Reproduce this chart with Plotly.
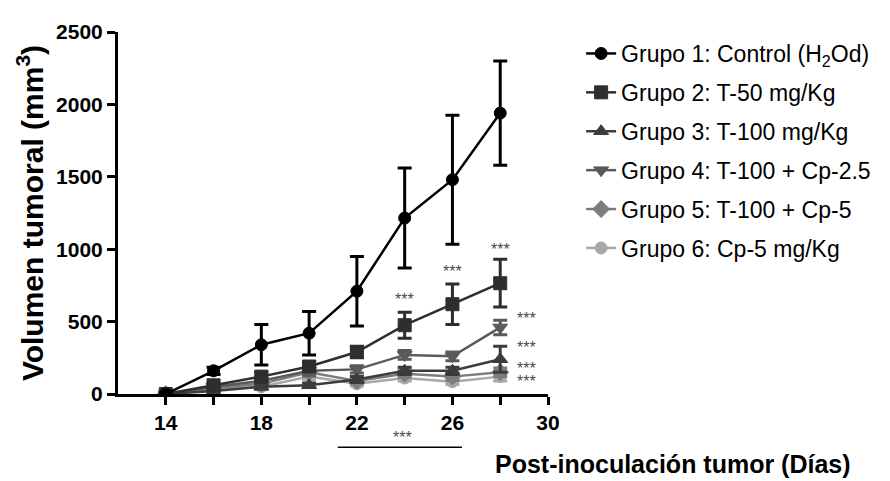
import plotly.graph_objects as go

days = [14, 16, 18, 20, 22, 24, 26, 28]
names = ["Grupo 1: Control (H<sub>2</sub>Od)", "Grupo 2: T-50 mg/Kg", "Grupo 3: T-100 mg/Kg",
         "Grupo 4: T-100 + Cp-2.5", "Grupo 5: T-100 + Cp-5", "Grupo 6: Cp-5 mg/Kg"]
g1 = [0, 160, 340, 420, 710, 1215, 1480, 1940]
g1_err = [0, 25, 140, 150, 240, 345, 445, 360]
g2 = [0, 60, 120, 190, 290, 475, 620, 765]
g2_err = [0, 15, 30, 35, 40, 90, 140, 165]
g3 = [0, 20, 50, 60, 100, 160, 160, 240]
g3_err = [0, 8, 15, 15, 20, 25, 25, 90]
g4 = [0, 50, 90, 160, 170, 270, 260, 460]
g4_err = [0, 10, 20, 30, 25, 30, 30, 50]
g5 = [0, 40, 70, 150, 90, 140, 120, 150]
g5_err = [0, 10, 15, 30, 20, 25, 25, 30]
g6 = [0, 30, 50, 120, 70, 110, 85, 120]
g6_err = [0, 10, 15, 25, 15, 20, 20, 30]

x_ticks = [14, 18, 22, 26, 30]
y_ticks = [0, 500, 1000, 1500, 2000, 2500]

series = [g1, g2, g3, g4, g5, g6]
errors = [g1_err, g2_err, g3_err, g4_err, g5_err, g6_err]
colors = ["#000000", "#2e2e2e", "#3c3c3c", "#5a5a5a", "#7c7c7c", "#a8a8a8"]
symbols = ["circle", "square", "triangle-up", "triangle-down", "diamond", "circle"]
sizes = [12, 13, 13, 13, 13, 12]

# significance marks: (x, y) in data units
star_x = [24, 26, 28, 29.1, 29.1, 29.1, 29.1]
star_y = [654, 845, 995, 518, 320, 177, 89]

FONT = "Liberation Sans, Arial, sans-serif"

fig = go.Figure()
for i in reversed(range(6)):
    fig.add_trace(go.Scatter(
        x=days, y=series[i], name=names[i], mode="lines+markers",
        line=dict(color=colors[i], width=2.5),
        marker=dict(symbol=symbols[i], size=sizes[i], color=colors[i],
                    line=dict(color=colors[i], width=1)),
        error_y=dict(type="data", array=errors[i], color=colors[i], thickness=3, width=7),
        legendrank=i + 1, legendgroup=str(i),
    ))

for sx, sy in zip(star_x, star_y):
    fig.add_annotation(x=sx, y=sy, text="***", showarrow=False, xref="x", yref="y",
                       font=dict(size=16, color="#4a4a4a", family=FONT))

fig.add_annotation(x=23.9, y=-0.148, xref="x", yref="paper", text="***", showarrow=False,
                   font=dict(size=16, color="#4a4a4a", family=FONT))
fig.add_shape(type="line", xref="x", yref="paper", x0=21.2, x1=26.4, y0=-0.147, y1=-0.147,
              line=dict(color="black", width=1.5))

fig.add_annotation(x=1.709, y=-0.193, xref="paper", yref="paper", xanchor="right", yanchor="middle",
                   text="<b>Post-inoculación tumor (Días)</b>", showarrow=False,
                   font=dict(size=25, color="black", family=FONT))

fig.update_layout(
    width=882, height=473,
    margin=dict(l=110, r=342, t=22, b=87),
    paper_bgcolor="white", plot_bgcolor="white",
    font=dict(family=FONT, color="black"),
    legend=dict(x=1.077, y=1.0, xanchor="left", yanchor="top", traceorder="grouped",
                tracegroupgap=6, maxheight=900, font=dict(size=23, color="black"),
                bgcolor="rgba(0,0,0,0)"),
    xaxis=dict(range=[12, 30], tickvals=x_ticks, ticktext=["<b>%d</b>" % t for t in x_ticks],
               showgrid=False, zeroline=False, showline=True, linecolor="black", linewidth=3,
               ticks="outside", ticklen=8, tickwidth=3, tickcolor="black",
               tickfont=dict(size=21),
               minor=dict(tickvals=[16, 20, 24, 28], ticks="outside", ticklen=8, tickwidth=3, tickcolor="black")),
    yaxis=dict(range=[0, 2500], tickvals=y_ticks, ticktext=["<b>%d</b>" % t for t in y_ticks],
               showgrid=False, zeroline=False, showline=True, linecolor="black", linewidth=3,
               ticks="outside", ticklen=8, tickwidth=3, tickcolor="black", tickfont=dict(size=21),
               title=dict(text="<b>Volumen tumoral (mm<sup>3</sup>)</b>", font=dict(size=30, family=FONT), standoff=4)),
)

fig.write_html("out.html")
